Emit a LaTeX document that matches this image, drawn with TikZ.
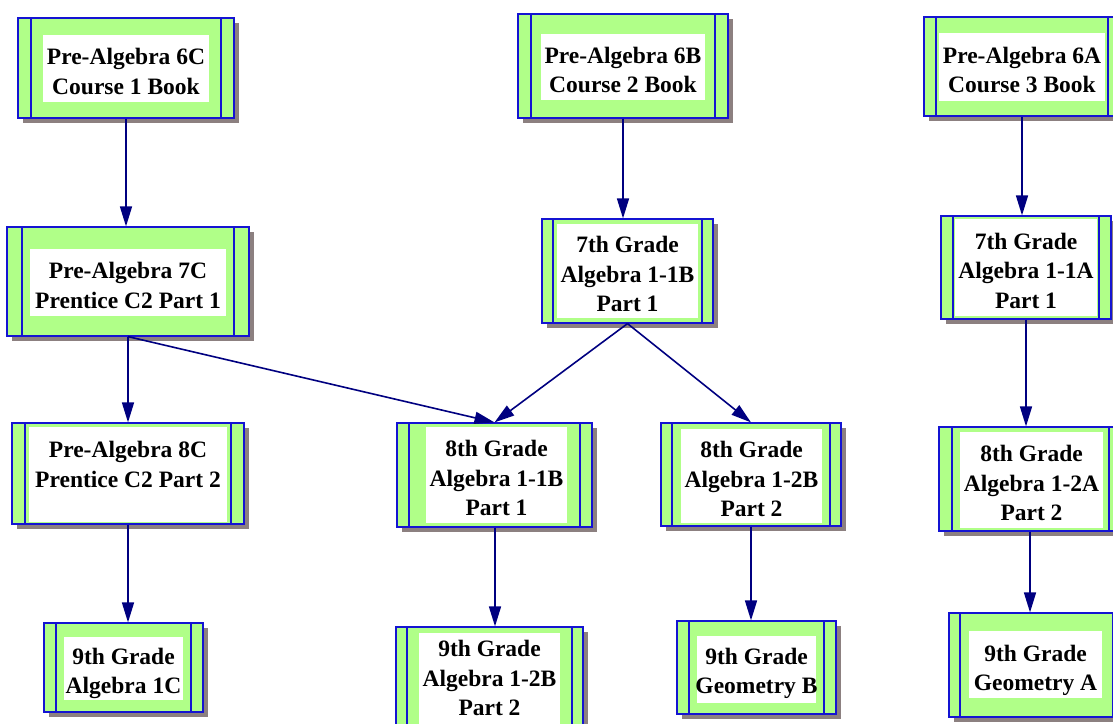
\documentclass[tikz,border=0pt]{standalone}
\usepackage{fontspec}
\setmainfont{Liberation Serif}
\usetikzlibrary{arrows.meta,fit}
\definecolor{boxgreen}{RGB}{176,255,136}
\definecolor{boxblue}{RGB}{20,20,210}
\definecolor{navy}{RGB}{0,0,128}
\definecolor{shadowgray}{RGB}{140,128,128}
\tikzset{
  outerbox/.style={draw=boxblue, fill=boxgreen, line width=1.2pt, inner sep=0pt},
  stripe/.style={draw=boxblue, line width=1.2pt},
  shadowbox/.style={fill=shadowgray},
  whitebox/.style={fill=white},
  labeltext/.style={font=\fontsize{23.5}{29.5}\selectfont\bfseries, align=center, inner sep=0pt},
  arr/.style={draw=navy, line width=1.6pt, -{Triangle[length=20pt,width=12pt]}},
}
\newcommand\coursebox[6]{%
  \fill[shadowbox] ({#2+5},{#3+5}) rectangle ({#4+5},{#5+5});
  \node[outerbox, fit={(#2,#3)(#4,#5)}] (#1) {};
  \draw[stripe] ({#2+#6},#3) -- ({#2+#6},#5);
  \draw[stripe] ({#4-#6},#3) -- ({#4-#6},#5);
}
\newcommand\coursetext[7][3]{%
  \fill[whitebox] (#3,#4) rectangle (#5,#6);
  \node[labeltext] (#2) at ({(#3+#5)/2},{(#4+#6)/2+#1}) {#7};
}
\begin{document}
\begin{tikzpicture}[x=1pt,y=-1pt]
\useasboundingbox (0,0) rectangle (1113,723);
\clip (0,0) rectangle (1113,723);
% row 1
\coursebox{n6C}{18}{18}{234}{118}{13}
\coursetext{t6C}{43}{35}{209}{102}{Pre-Algebra 6C\\Course 1 Book}
\coursebox{n6B}{518}{14}{728}{118}{13}
\coursetext{t6B}{541}{34}{705}{100}{Pre-Algebra 6B\\Course 2 Book}
\coursebox{n6A}{924}{17}{1120}{116}{12}
\coursetext{t6A}{939}{33}{1105}{101}{Pre-Algebra 6A\\Course 3 Book}
% row 2
\coursebox{n7C}{7}{227}{249}{336}{15}
\coursetext{t7C}{30}{249}{226}{316}{Pre-Algebra 7C\\Prentice C2 Part 1}
\coursebox{n7B}{542}{219}{713}{323}{11}
\coursetext{t7B}{557}{224}{698}{318}{7th Grade\\Algebra 1-1B\\Part 1}
\coursebox{n7A}{941}{216}{1111}{319}{12}
\coursetext{t7A}{955}{219}{1097}{316}{7th Grade\\Algebra 1-1A\\Part 1}
% row 3
\coursebox{n8C}{12}{423}{244}{524}{13}
\coursetext[9]{t8C}{29}{427}{227}{522}{Pre-Algebra 8C\\Prentice C2 Part 2\\\strut}
\coursebox{n8Ba}{397}{423}{592}{527}{12}
\coursetext{t8Ba}{426}{427}{567}{523}{8th Grade\\Algebra 1-1B\\Part 1}
\coursebox{n8Bb}{661}{423}{841}{526}{11}
\coursetext{t8Bb}{681}{429}{822}{523}{8th Grade\\Algebra 1-2B\\Part 2}
\coursebox{n8A}{939}{427}{1122}{531}{13}
\coursetext{t8A}{960}{432}{1103}{528}{8th Grade\\Algebra 1-2A\\Part 2}
% row 4
\coursebox{n9C}{44}{623}{203}{712}{12}
\coursetext[5]{t9C}{64}{637}{183}{700}{9th Grade\\Algebra 1C}
\coursebox{n9Ba}{396}{627}{583}{733}{11}
\coursetext[-2]{t9Ba}{419}{633}{560}{727}{9th Grade\\Algebra 1-2B\\Part 2}
\coursebox{n9Bb}{677}{621}{836}{714}{12}
\coursetext[4]{t9Bb}{697}{636}{816}{703}{9th Grade\\Geometry B}
\coursebox{n9A}{949}{613}{1124}{717}{11}
\coursetext[6]{t9A}{969}{631}{1102}{698}{9th Grade\\Geometry A}
% connectors
\draw[arr] (n6C.south) -- (n6C.south |- n7C.north);
\draw[arr] (n6B.south) -- (n6B.south |- n7B.north);
\draw[arr] (n6A.south) -- (n6A.south |- n7A.north);
\draw[arr] (n7C.south) -- (n7C.south |- n8C.north);
\draw[arr] (n7C.south) -- (n8Ba.north);
\draw[arr] (n7B.south) -- (n8Ba.north);
\draw[arr] (n7B.south) -- (n8Bb.north);
\draw[arr] (n7A.south) -- (n7A.south |- n8A.north);
\draw[arr] (n8C.south) -- (n8C.south |- n9C.north);
\draw[arr] ([xshift=0.5pt]n8Ba.south) -- ([xshift=0.5pt]n8Ba.south |- n9Ba.north);
\draw[arr] (n8Bb.south) -- (n8Bb.south |- n9Bb.north);
\draw[arr] ([xshift=-0.5pt]n8A.south) -- ([xshift=-0.5pt]n8A.south |- n9A.north);
\end{tikzpicture}
\end{document}
